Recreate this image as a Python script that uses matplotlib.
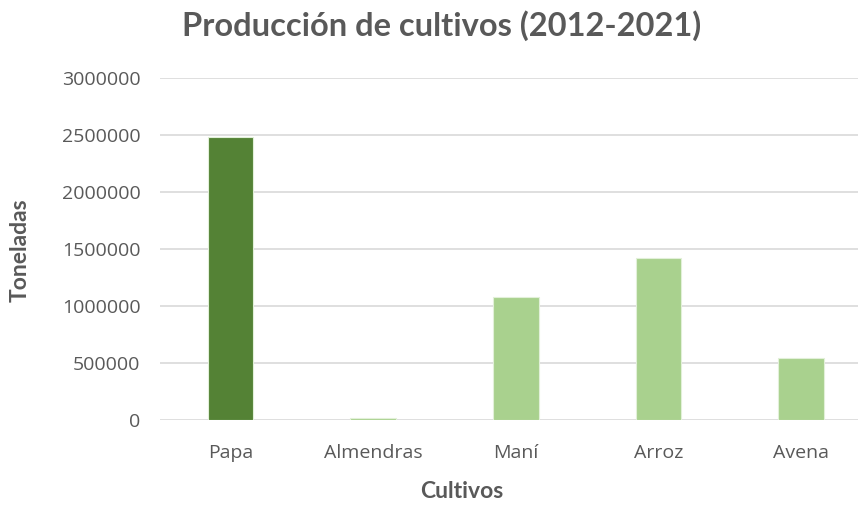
import matplotlib.pyplot as plt

cultivos = ['Papa', 'Almendras', 'Maní', 'Arroz', 'Avena']
toneladas = [2480000, 17000, 1077000, 1424000, 540000]
colores = ['#548235', '#A9D18E', '#A9D18E', '#A9D18E', '#A9D18E']
yticks = [0, 500000, 1000000, 1500000, 2000000, 2500000, 3000000]

texto = '#595959'

fig = plt.figure(figsize=(8.58, 5.07), dpi=100)
ax = fig.add_axes([160 / 858, 87 / 507, 698 / 858, 342 / 507])

x = range(len(cultivos))
ax.bar(x, toneladas, width=0.32, color=colores, edgecolor='#E2F0D9', linewidth=0.8, zorder=3)

ax.set_xlim(-0.495, 4.4)
ax.set_ylim(0, 3000000)
ax.set_yticks(yticks)
ax.set_yticklabels([str(v) for v in yticks])
ax.set_xticks(list(x))
ax.set_xticklabels(cultivos)

ax.grid(axis='y', color='#D9D9D9', linewidth=1.2, zorder=0)
for s in ax.spines.values():
    s.set_visible(False)
ax.tick_params(length=0, colors=texto, labelsize=14)
ax.tick_params(axis='y', pad=14)
ax.tick_params(axis='x', pad=17)
for lab in ax.get_xticklabels() + ax.get_yticklabels():
    lab.set_fontfamily('Open Sans')

fig.text(462 / 858, 15 / 507, 'Cultivos', ha='center', va='center',
         fontsize=16.5, fontweight='bold', color=texto, family='Lato')
fig.text(20 / 858, 257 / 507, 'Toneladas', ha='center', va='center', rotation=90,
         fontsize=16.5, fontweight='bold', color=texto, family='Lato')

fig.text(442 / 858, 481 / 507, 'Producción de cultivos (2012-2021)', ha='center', va='center',
         fontsize=23.5, fontweight='bold', color=texto, family='Lato')

fig.savefig('out.png', dpi=100)
